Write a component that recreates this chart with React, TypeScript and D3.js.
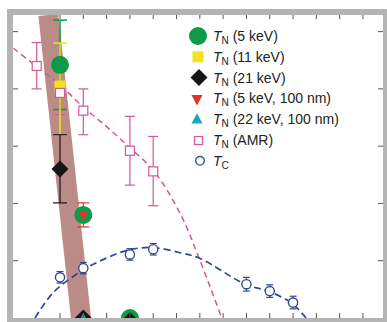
import React from 'react';
import * as d3 from 'd3';

// values (x in axis units, y in axis units)
const tn5keV = [
  { x: 2, y: 4.42, lo: 3.64, hi: 5.2 },
  { x: 3, y: 1.8 },
  { x: 5, y: 0 },
];
const tn11keV = [{ x: 2, y: 4.05, lo: 3.2, hi: 4.8 }];
const tn21keV = [
  { x: 2, y: 2.6, lo: 2.01, hi: 3.2 },
  { x: 3, y: 0 },
  { x: 5, y: 0 },
];
const tn5keV100 = [{ x: 3, y: 1.8, lo: 1.59, hi: 2.01 }];
const tn22keV100 = [{ x: 3, y: 0 }];
const tnAMR = [
  { x: 1, y: 4.4, lo: 4.0, hi: 4.81 },
  { x: 2, y: 3.93, lo: 3.55, hi: 4.3 },
  { x: 3, y: 3.62, lo: 3.2, hi: 4.0 },
  { x: 5, y: 2.92, lo: 2.32, hi: 3.52 },
  { x: 6, y: 2.56, lo: 1.96, hi: 3.17 },
];
const tc = [
  { x: 2, y: 0.71, lo: 0.61, hi: 0.81 },
  { x: 3, y: 0.87, lo: 0.77, hi: 0.97 },
  { x: 5, y: 1.11, lo: 1.01, hi: 1.21 },
  { x: 6, y: 1.2, lo: 1.1, hi: 1.3 },
  { x: 10, y: 0.59, lo: 0.47, hi: 0.71 },
  { x: 11, y: 0.47, lo: 0.36, hi: 0.58 },
  { x: 12, y: 0.27, lo: 0.16, hi: 0.38 },
];
// dashed guide lines
const amrGuide: [number, number][] = [
  [0, 4.71], [1, 4.39], [2, 4.07], [3, 3.68], [4, 3.34], [5, 2.97],
  [6, 2.58], [7.15, 1.83], [8, 1.01], [8.94, 0],
];
const tcGuide: [number, number][] = [
  [0.93, 0], [1.7, 0.44], [3, 0.84], [4.02, 1.05], [4.96, 1.19], [5.98, 1.23],
  [7.15, 1.14], [8.01, 1.04], [9.94, 0.59], [10.93, 0.47], [11.94, 0.26], [12.56, 0],
];
const band: [number, number][] = [[1.5, 5.29], [2.9, 0]];
const xTicks = [2, 3, 4, 5, 6, 7, 8, 9, 10, 11, 12, 13, 14, 15];
const yTicks = [1, 2, 3, 4, 5];
const legendLabels = ['5 keV', '11 keV', '21 keV', '5 keV, 100 nm', '22 keV, 100 nm', 'AMR'];

const C = {
  green: '#0f9a48',
  yellow: '#f4e21a',
  black: '#161616',
  red: '#e2322e',
  cyan: '#1ba7b6',
  pink: '#d4579a',
  navy: '#34478f',
  band: '#bb8b87',
};

const x = d3.scaleLinear().domain([0, 15.86]).range([13.4, 383]);
const y = d3.scaleLinear().domain([0, 5.29]).range([318, 15]);

const diamond = (cx: number, cy: number, r: number) =>
  `M${cx},${cy - r}L${cx + r},${cy}L${cx},${cy + r}L${cx - r},${cy}Z`;
const triDown = (cx: number, cy: number, w: number) =>
  `M${cx - w / 2},${cy - w * 0.4}L${cx + w / 2},${cy - w * 0.4}L${cx},${cy + w * 0.55}Z`;
const triUp = (cx: number, cy: number, w: number) =>
  `M${cx - w / 2},${cy + w * 0.4}L${cx + w / 2},${cy + w * 0.4}L${cx},${cy - w * 0.55}Z`;

const ErrBar = ({ d, color, cap = 6, w = 1.3 }: any) => (
  <g stroke={color} strokeWidth={w}>
    <line x1={x(d.x)} x2={x(d.x)} y1={y(d.lo)} y2={y(d.hi)} />
    <line x1={x(d.x) - cap} x2={x(d.x) + cap} y1={y(d.lo)} y2={y(d.lo)} />
    <line x1={x(d.x) - cap} x2={x(d.x) + cap} y1={y(d.hi)} y2={y(d.hi)} />
  </g>
);

export default function App() {
  const guide = d3.line<[number, number]>()
    .x(d => x(d[0]))
    .y(d => y(d[1]))
    .curve(d3.curveCatmullRom);

  const font = '"Liberation Sans", Arial, Helvetica, sans-serif';
  const lx = 198;
  const ly0 = 36;
  const lstep = 20.8;

  return (
    <svg width={387} height={322} style={{ position: 'absolute', left: 0, top: 0 }} fontFamily={font}>
      <rect x={0} y={0} width={387} height={322} fill="#fff" />
      <rect x={7} y={9} width={380} height={313} fill="#b4b4b4" />
      <defs>
        <clipPath id="plot">
          <rect x={13} y={15} width={370} height={303} />
        </clipPath>
      </defs>
      <rect x={13} y={15} width={370} height={303} fill="#fff" />

      <g clipPath="url(#plot)">
        {/* brown band */}
        <line x1={x(band[0][0])} y1={y(band[0][1])} x2={x(band[1][0])} y2={y(band[1][1])}
          stroke={C.band} strokeWidth={20} />

        {/* guide curves */}
        <path d={guide(amrGuide) || ''} fill="none" stroke={C.pink} strokeWidth={1.5} strokeDasharray="6,4" />
        <path d={guide(tcGuide) || ''} fill="none" stroke={C.navy} strokeWidth={1.7} strokeDasharray="7,4" />

        {/* error bars */}
        {tnAMR.map((d, i) => <ErrBar key={'ae' + i} d={d} color={C.pink} cap={5} w={1.2} />)}
        <ErrBar d={tn5keV[0]} color={C.green} cap={7} w={1.5} />
        <ErrBar d={tn11keV[0]} color={C.yellow} cap={7} w={1.5} />
        <ErrBar d={tn21keV[0]} color={C.black} cap={7} w={1.2} />
        <ErrBar d={tn5keV100[0]} color={C.red} cap={6} w={1.2} />
        {tc.map((d, i) => <ErrBar key={'te' + i} d={d} color={C.navy} cap={3.5} w={1.2} />)}

        {/* markers */}
        {tn5keV.map((d, i) => <circle key={'g' + i} cx={x(d.x)} cy={y(d.y)} r={9} fill={C.green} />)}
        {tn11keV.map((d, i) => <rect key={'y' + i} x={x(d.x) - 5.5} y={y(d.y) - 5.5} width={11} height={11} fill={C.yellow} />)}
        {tnAMR.map((d, i) => (
          <rect key={'a' + i} x={x(d.x) - 4.5} y={y(d.y) - 4.5} width={9} height={9}
            fill="#fff" stroke={C.pink} strokeWidth={1.2} />
        ))}
        {tn21keV.map((d, i) => (
          <path key={'b' + i} d={diamond(x(d.x), y(d.y), d.y === 0 && d.x === 5 ? 6 : 8.5)} fill={C.black} />
        ))}
        {tn5keV100.map((d, i) => <path key={'r' + i} d={triDown(x(d.x), y(d.y), 10)} fill={C.red} />)}
        {tn22keV100.map((d, i) => <path key={'c' + i} d={triUp(x(d.x), y(d.y), 9)} fill={C.cyan} />)}
        {tc.map((d, i) => (
          <circle key={'t' + i} cx={x(d.x)} cy={y(d.y)} r={4.6} fill="#fff" stroke={C.navy} strokeWidth={1.4} />
        ))}
      </g>

      {/* inward ticks on all four sides */}
      <g stroke="#555" strokeWidth={1}>
        {xTicks.map(t => (
          <g key={'xt' + t}>
            <line x1={x(t)} x2={x(t)} y1={15} y2={19} />
            <line x1={x(t)} x2={x(t)} y1={318} y2={313} />
          </g>
        ))}
        {yTicks.map(t => (
          <g key={'yt' + t}>
            <line x1={13} x2={18} y1={y(t)} y2={y(t)} />
            <line x1={383} x2={378} y1={y(t)} y2={y(t)} />
          </g>
        ))}
      </g>

      {/* legend */}
      <g>
        <circle cx={lx} cy={ly0} r={9} fill={C.green} />
        <rect x={lx - 5.5} y={ly0 + lstep - 5.5} width={11} height={11} fill={C.yellow} />
        <path d={diamond(lx + 1, ly0 + 2 * lstep, 8.5)} fill={C.black} />
        <path d={triDown(lx - 1, ly0 + 3 * lstep + 1, 11)} fill={C.red} />
        <path d={triUp(lx - 1, ly0 + 4 * lstep, 11)} fill={C.cyan} />
        <rect x={lx - 3.5} y={ly0 + 5 * lstep - 3.5} width={8} height={8} fill="#fff" stroke={C.pink} strokeWidth={1.2} />
        <circle cx={lx + 2} cy={ly0 + 6 * lstep} r={4.3} fill="#fff" stroke={C.navy} strokeWidth={1.4} />
        {legendLabels.map((lab, i) => (
          <text key={lab} x={213} y={ly0 + i * lstep + 5} fontSize={14} fill="#222">
            <tspan fontStyle="italic">T</tspan>
            <tspan fontSize={10} dy={3}>N</tspan>
            <tspan dy={-3}>{` (${lab})`}</tspan>
          </text>
        ))}
        <text x={213} y={ly0 + 6 * lstep + 5} fontSize={14} fill="#222">
          <tspan fontStyle="italic">T</tspan>
          <tspan fontSize={10} dy={3}>C</tspan>
        </text>
      </g>
    </svg>
  );
}
